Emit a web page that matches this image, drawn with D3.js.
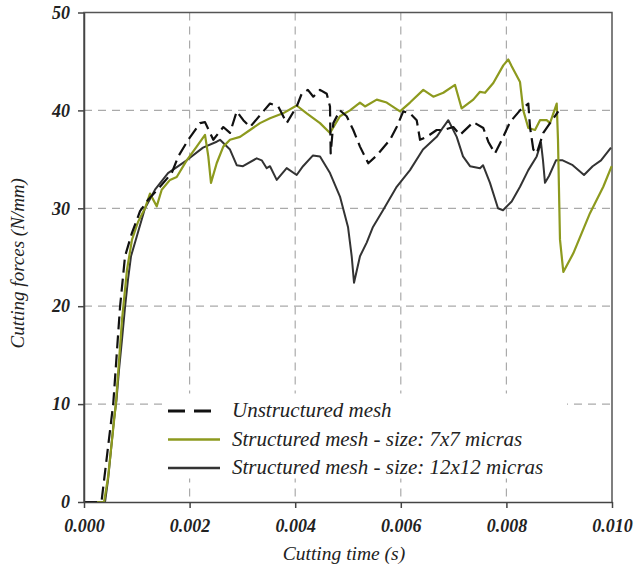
<!DOCTYPE html>
<html>
<head>
<meta charset="utf-8">
<script src="https://cdn.jsdelivr.net/npm/d3@7"></script>
<style>
  body { margin: 0; background: #fff; }
  text { font-family: "Liberation Serif", "DejaVu Serif", serif; font-style: italic; }
</style>
</head>
<body>
<svg id="chart"></svg>
<script>
// cutting time (s) and cutting force (N/mm)
var unstructuredT = [0, 0.00030, 0.000335, 0.000555, 0.000682, 0.000777, 0.000903, 0.001061, 0.001218, 0.001439,
  0.001661, 0.001786, 0.001975, 0.002197, 0.002292, 0.002449, 0.002638, 0.002765, 0.002892, 0.003017,
  0.003144, 0.003333, 0.003523, 0.00368, 0.003839, 0.004028, 0.004123, 0.00424, 0.004343, 0.00447,
  0.004597, 0.004659, 0.004672, 0.004722, 0.004848, 0.004975, 0.0051, 0.005227, 0.005384, 0.005544,
  0.005795, 0.005922, 0.006047, 0.006174, 0.006301, 0.006364, 0.006491, 0.00668, 0.006805, 0.006994,
  0.007121, 0.007373, 0.007563, 0.007657, 0.007784, 0.007941, 0.008068, 0.008258, 0.008415, 0.008447,
  0.00851, 0.008574, 0.008699, 0.008826, 0.008983];
var unstructuredF = [0, 0, 0.2, 10.1, 19.9, 25.1, 27.4, 29.7, 30.9, 32.2,
  33.6, 35.3, 37.0, 38.7, 38.8, 37.0, 38.3, 37.7, 39.9, 39.0,
  38.3, 39.5, 40.7, 40.4, 38.7, 40.4, 41.7, 42.1, 41.4, 42.1,
  41.7, 40.4, 35.6, 38.7, 40.0, 39.4, 38.0, 36.3, 34.6, 35.4,
  37.0, 38.3, 39.9, 39.7, 39.0, 37.0, 37.3, 38.0, 38.0, 38.3,
  37.5, 38.8, 38.2, 36.8, 35.6, 37.3, 38.8, 40.0, 40.7, 38.3,
  36.0, 35.6, 37.7, 38.7, 39.9];

var mesh7T = [0, 0.00038, 0.000455, 0.000606, 0.00072, 0.000814, 0.000909, 0.001023, 0.001155, 0.00125,
  0.001377, 0.001472, 0.001629, 0.001756, 0.001945, 0.002134, 0.002292, 0.002354, 0.002405, 0.002513,
  0.002638, 0.002765, 0.002955, 0.003144, 0.003333, 0.003523, 0.003769, 0.004028, 0.004218, 0.00447,
  0.004659, 0.004848, 0.005038, 0.005227, 0.005322, 0.005544, 0.005733, 0.005985, 0.006174, 0.006426,
  0.006616, 0.006805, 0.007027, 0.007153, 0.007373, 0.0075, 0.007595, 0.007752, 0.007941, 0.008036,
  0.0081, 0.008258, 0.00832, 0.008415, 0.008542, 0.008636, 0.008763, 0.008826, 0.008953, 0.008977,
  0.009015, 0.009078, 0.009267, 0.009583, 0.009835, 0.009994];
var mesh7F = [0, 0, 2.5, 10.2, 18.6, 23.7, 26.8, 28.6, 30.0, 31.5,
  30.2, 31.9, 32.9, 33.2, 34.9, 36.3, 37.5, 35.3, 32.6, 34.6,
  36.3, 37.0, 37.3, 38.0, 38.7, 39.2, 39.7, 40.5, 39.7, 38.7,
  37.7, 39.4, 40.0, 40.8, 40.4, 41.1, 40.8, 39.9, 40.8, 42.1,
  41.4, 41.8, 42.6, 40.2, 41.1, 41.9, 41.8, 42.8, 44.6, 45.2,
  44.5, 42.9, 40.0, 38.2, 38.0, 39.0, 39.0, 38.7, 40.7, 37.0,
  26.8, 23.5, 25.4, 29.5, 32.2, 34.3];

var mesh12T = [0, 0.000398, 0.000455, 0.000511, 0.000568, 0.000615, 0.000663, 0.00072, 0.000777, 0.000833,
  0.00089, 0.000998, 0.001155, 0.001345, 0.001591, 0.001945, 0.002254, 0.002513, 0.002576, 0.002765,
  0.002892, 0.003011, 0.003271, 0.003366, 0.00346, 0.003523, 0.00365, 0.003839, 0.004028, 0.004148,
  0.004337, 0.00447, 0.004659, 0.004848, 0.005, 0.00507, 0.005114, 0.005227, 0.005354, 0.005473,
  0.005663, 0.005922, 0.006174, 0.00642, 0.00668, 0.006805, 0.0069, 0.007059, 0.007178, 0.007311,
  0.0075, 0.007557, 0.007689, 0.007841, 0.007936, 0.0081, 0.008258, 0.008415, 0.008574, 0.008655,
  0.008693, 0.008731, 0.008807, 0.008939, 0.009066, 0.009256, 0.00947, 0.009634, 0.009792, 0.009981];
var mesh12F = [0, 0, 2.25, 5.3, 8.4, 10.4, 13.5, 16.6, 19.9, 22.7,
  25.1, 27.1, 30.0, 31.9, 33.6, 34.9, 36.2, 36.8, 37.0, 36.0,
  34.4, 34.3, 35.1, 34.9, 34.1, 34.3, 32.9, 34.1, 33.4, 34.3,
  35.4, 35.3, 33.6, 31.2, 28.1, 25.1, 22.4, 25.1, 26.5, 28.1,
  29.8, 32.2, 33.9, 36.0, 37.3, 38.3, 39.0, 37.3, 35.3, 34.3,
  34.1, 34.4, 32.6, 30.0, 29.8, 30.7, 32.2, 33.9, 35.3, 36.7,
  34.9, 32.6, 33.3, 34.9, 34.9, 34.4, 33.4, 34.3, 34.9, 36.2];

var xTicks = [0, 0.002, 0.004, 0.006, 0.008, 0.010];
var yTicks = [0, 10, 20, 30, 40, 50];
var legendLabels = ["Unstructured mesh", "Structured mesh - size: 7x7 micras", "Structured mesh - size: 12x12 micras"];

var margin = {top: 12.5, right: 24, bottom: 71, left: 84},
  width = 636 - margin.left - margin.right,
  height = 573 - margin.top - margin.bottom;

var svg = d3.select("#chart")
  .attr("width", 636)
  .attr("height", 573)
  .append("g")
  .attr("transform", "translate(" + margin.left + "," + margin.top + ")");

var x = d3.scaleLinear().domain([0, 0.010]).range([0, width]);
var y = d3.scaleLinear().domain([0, 50]).range([height, 0]);

// grid
svg.selectAll(".vgrid")
  .data(xTicks.slice(1, -1))
  .enter().append("line")
  .attr("x1", d => x(d)).attr("x2", d => x(d))
  .attr("y1", 0).attr("y2", height)
  .attr("stroke", "#aaa").attr("stroke-width", 1.2).attr("stroke-dasharray", "8,6");

svg.selectAll(".hgrid")
  .data(yTicks.slice(1, -1))
  .enter().append("line")
  .attr("x1", 0).attr("x2", width)
  .attr("y1", d => y(d)).attr("y2", d => y(d))
  .attr("stroke", "#aaa").attr("stroke-width", 1.2).attr("stroke-dasharray", "8,6");

// legend background hides the grid behind it
svg.append("rect")
  .attr("x", 81).attr("y", 381)
  .attr("width", 402).attr("height", 85)
  .attr("fill", "#fff");

// frame
svg.append("path")
  .attr("d", "M0," + height + "V0H" + width + "V" + height)
  .attr("fill", "none").attr("stroke", "#555").attr("stroke-width", 1.5);

var series = [
  {t: unstructuredT, f: unstructuredF, color: "#111", dash: "13,6", w: 2.2},
  {t: mesh7T, f: mesh7F, color: "#8d9a1e", dash: null, w: 2.2},
  {t: mesh12T, f: mesh12F, color: "#333", dash: null, w: 2}
];

var line = d3.line()
  .x(d => x(d[0]))
  .y(d => y(d[1]));

// draw 12x12 first, then 7x7, then dashed on top
[2, 1, 0].forEach(i => {
  var s = series[i];
  svg.append("path")
    .datum(s.t.map((t, j) => [t, s.f[j]]))
    .attr("d", line)
    .attr("fill", "none")
    .attr("stroke", s.color)
    .attr("stroke-width", s.w)
    .attr("stroke-linejoin", "round")
    .attr("stroke-dasharray", s.dash);
});

// axes
var xAxis = svg.append("g")
  .attr("transform", "translate(0," + height + ")")
  .call(d3.axisBottom(x).tickValues(xTicks).tickFormat(d3.format(".3f")).tickSize(6).tickSizeOuter(0));
var yAxis = svg.append("g")
  .call(d3.axisLeft(y).tickValues(yTicks).tickSize(6).tickSizeOuter(0));

[xAxis, yAxis].forEach(a => {
  a.select(".domain").attr("stroke", "#444").attr("stroke-width", 1.5);
  a.selectAll(".tick line").attr("stroke", "#444").attr("stroke-width", 1.5);
  a.selectAll(".tick text")
    .attr("font-family", "Liberation Serif, serif")
    .attr("font-style", "italic")
    .attr("font-weight", "bold")
    .attr("font-size", 18)
    .attr("fill", "#222");
});
xAxis.selectAll(".tick text").attr("dy", "1.15em");
yAxis.selectAll(".tick text").attr("x", -14);

// legend
var legend = svg.selectAll(".legend")
  .data(legendLabels)
  .enter().append("g")
  .attr("transform", (d, i) => "translate(84," + (398.5 + i * 28.5) + ")");

legend.append("line")
  .attr("x1", 0).attr("x2", 52)
  .attr("stroke", (d, i) => series[i].color)
  .attr("stroke-width", (d, i) => i == 0 ? 3 : 2.5)
  .attr("stroke-dasharray", (d, i) => i == 0 ? "17,9" : null);

legend.append("text")
  .attr("x", 64)
  .attr("y", 6)
  .attr("font-size", 21)
  .attr("fill", "#222")
  .text(d => d);

// axis titles
svg.append("text")
  .attr("x", width / 2 - 4)
  .attr("y", height + 58)
  .attr("text-anchor", "middle")
  .attr("font-size", 19.5)
  .attr("fill", "#222")
  .text("Cutting time (s)");

svg.append("text")
  .attr("transform", "rotate(-90)")
  .attr("x", -(height / 2 + 6))
  .attr("y", -60)
  .attr("text-anchor", "middle")
  .attr("font-size", 19)
  .attr("fill", "#222")
  .text("Cutting forces (N/mm)");
</script>
</body>
</html>
